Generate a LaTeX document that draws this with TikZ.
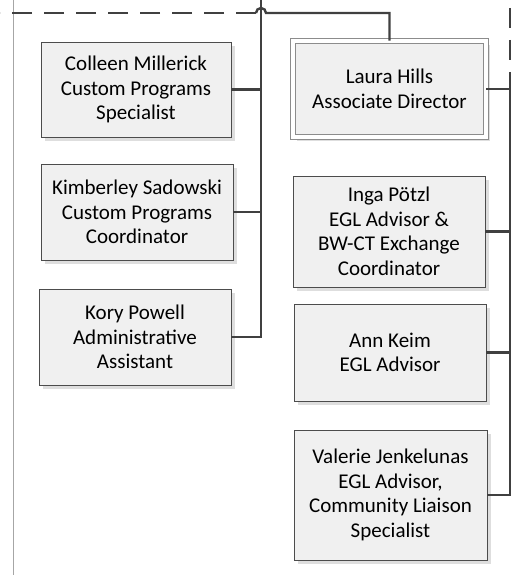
\documentclass[tikz,border=0pt]{standalone}
\usepackage{fontspec}
\setmainfont{Carlito}
\usetikzlibrary{calc, shadows}

\tikzset{
  staffbox/.style={draw=black!70, line width=0.9pt, fill=black!6, align=center,
    inner sep=0pt, font=\fontsize{21}{24.5}\selectfont,
    drop shadow={shadow xshift=4pt, shadow yshift=-4pt, fill=black!13, opacity=1}},
  conn/.style={draw=black!75, line width=2.4pt},
  dotted link/.style={draw=black!75, line width=2.4pt, dash pattern=on 20pt off 12pt}
}

\begin{document}
\begin{tikzpicture}[x=1pt,y=-1pt]
\useasboundingbox (0,0) rectangle (529,575);
% Thin margin rule on the left
\draw[black!35, line width=1pt] (13,0) -- (13,575);
% Left column of staff
\node[staffbox, minimum width=190pt, minimum height=95pt] (colleen) at (136,89.5)
  {Colleen Millerick\\Custom Programs\\Specialist};
\node[staffbox, minimum width=192pt, minimum height=96pt] (kimberley) at (137,212)
  {Kimberley Sadowski\\Custom Programs\\Coordinator};
\node[staffbox, minimum width=192pt, minimum height=96pt] (kory) at (135,337)
  {Kory Powell\\Administrative\\Assistant};
% Right column of staff
\node[staffbox, minimum width=193pt, minimum height=96pt, draw=black!45,
  double=white, double distance=3.5pt, line width=0.8pt] (laura) at (389.5,89)
  {Laura Hills\\Associate Director};
\node[staffbox, minimum width=192pt, minimum height=111pt] (inga) at (389,231.5)
  {Inga Pötzl\\EGL Advisor \&\\BW-CT Exchange\\Coordinator};
\node[staffbox, minimum width=192pt, minimum height=97pt] (ann) at (390,352.5)
  {Ann Keim\\EGL Advisor};
\node[staffbox, minimum width=193pt, minimum height=130pt] (valerie) at (390.5,495)
  {Valerie Jenkelunas\\EGL Advisor,\\Community Liaison\\Specialist};
% Spine coordinates
\coordinate (lspine) at (261,0);
\coordinate (rspine) at (510,72);
\coordinate (rdash) at (510,8);
\coordinate (hop) at (266,13);
\coordinate (dashend) at (0,13);
% Left spine and branches
\draw[conn] (kory.east) -| (lspine);
\draw[conn] (colleen.east) -- (colleen.east -| lspine);
\draw[conn] (kimberley.east) -- (kimberley.east -| lspine);
% Right spine and branches
\draw[conn] (valerie.east) -| (rspine);
\draw[conn] (laura.east) -- (laura.east -| rspine);
\draw[conn] (inga.east) -- (inga.east -| rspine);
\draw[conn] (ann.east) -- (ann.east -| rspine);
\draw[dotted link] (rdash) -- (rspine);
% Line over the top with a hop across the left spine
\draw[conn] (laura.north) |- (hop) arc[start angle=0, end angle=180, radius=5pt];
\draw[dotted link] ($(hop)+(-10,0)$) -- (dashend);
\end{tikzpicture}
\end{document}
